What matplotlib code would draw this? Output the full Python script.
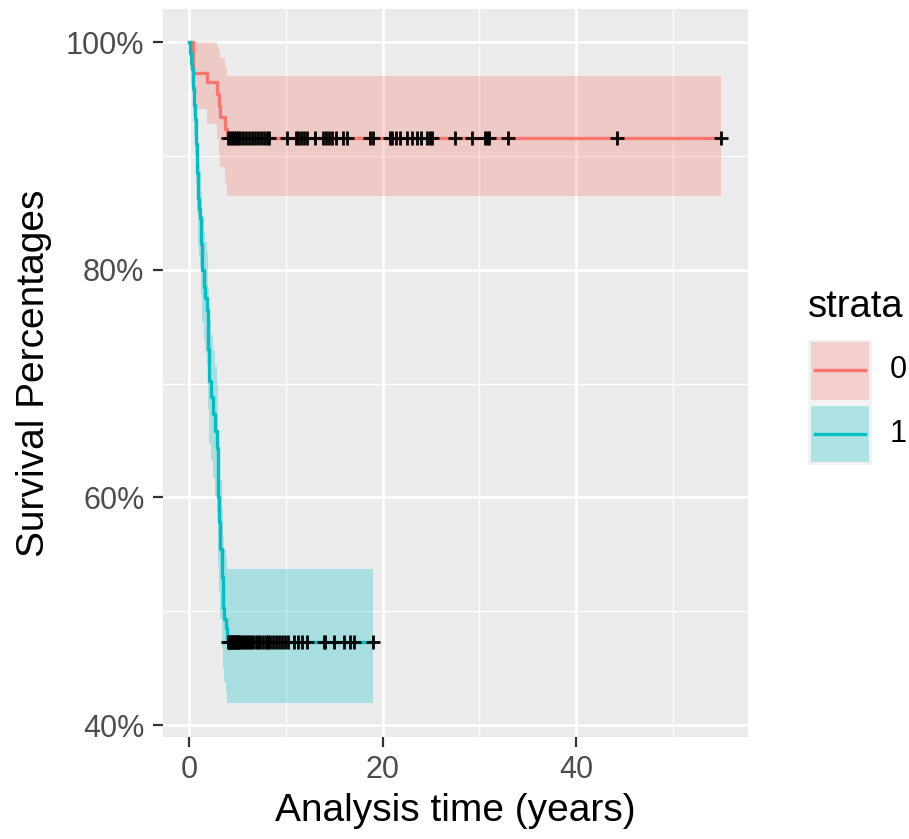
import numpy as np
import matplotlib
matplotlib.use("Agg")
import matplotlib.pyplot as plt
from matplotlib.patches import Rectangle
from matplotlib.lines import Line2D

plt.rcParams['font.family'] = ['Liberation Sans', 'DejaVu Sans']

# ---------------- data ----------------
strata = ["0", "1"]

# stratum 0: event times (years) and survival (%) with confidence band
t0 = [0, 0.4, 1.85, 2.9, 3.05, 3.2, 3.7, 3.9]
s0 = [100, 97.3, 96.5, 95.4, 94.4, 93.4, 92.4, 91.6]
up0 = [100, 100, 100, 99.6, 99.2, 98.6, 97.8, 97.0]
lo0 = [100, 94.1, 92.8, 91.5, 90.2, 89.0, 87.6, 86.5]
cens0 = [4.0, 4.2, 4.4, 4.6, 4.8, 5.0, 5.3, 5.6, 5.9, 6.2, 6.5, 6.8, 7.1, 7.4,
         7.7, 8.0, 8.3, 10.1, 11.0, 11.3, 11.6, 11.9, 12.2, 13.0, 13.8, 14.1,
         14.5, 14.8, 15.2, 15.9, 16.3, 18.7, 19.0, 20.8, 21.0, 21.4, 21.8, 22.5,
         23.0, 23.5, 24.0, 24.6, 24.9, 25.1, 27.5, 29.2, 30.6, 30.8, 31.0, 33.0,
         44.2, 55.0]

# stratum 1
t1 = [0, 0.1, 0.2, 0.27, 0.4, 0.5, 0.62, 0.75, 0.85, 0.96, 1.05, 1.14, 1.22,
      1.31, 1.5, 1.65, 1.83, 1.95, 2.1, 2.3, 2.5, 2.69, 2.93, 3.0, 3.03, 3.1,
      3.2, 3.35, 3.5, 3.65, 3.8, 3.9]
s1 = [100, 99.0, 98.2, 97.6, 96.0, 94.5, 93.2, 91.0, 88.5, 86.2, 85.3, 84.5,
      82.3, 80.0, 78.5, 77.5, 76.5, 73.0, 70.2, 68.8, 67.3, 65.8, 64.3, 62.0,
      60.0, 57.8, 55.5, 53.0, 50.3, 49.3, 48.5, 47.3]
up1 = [100, 99.9, 99.6, 99.2, 98.2, 97.0, 96.1, 94.3, 92.2, 90.2, 89.4, 88.7,
       86.8, 84.7, 83.3, 82.4, 81.5, 78.3, 75.6, 74.3, 72.9, 71.5, 70.1, 67.9,
       65.9, 63.8, 61.5, 59.1, 56.5, 55.5, 54.8, 53.7]
lo1 = [100, 97.6, 96.3, 95.5, 93.5, 91.7, 90.1, 87.6, 84.8, 82.2, 81.2, 80.3,
       77.9, 75.4, 73.8, 72.7, 71.6, 67.8, 64.8, 63.3, 61.7, 60.1, 58.5, 56.1,
       54.0, 51.7, 49.3, 46.8, 45.0, 43.8, 42.8, 41.9]
cens1 = [4.0, 4.1, 4.2, 4.3, 4.4, 4.5, 4.6, 4.7, 4.8, 4.9, 5.0, 5.2, 5.4, 5.6,
         5.8, 6.0, 6.2, 6.4, 6.6, 6.9, 7.1, 7.3, 7.6, 7.9, 8.1, 8.4, 8.7, 9.0,
         9.3, 9.6, 9.9, 10.2, 10.8, 11.3, 11.7, 12.2, 13.9, 14.05, 15.0, 16.0,
         16.6, 17.0, 19.0]

x_ticks = [0, 20, 40]
y_ticks = [40, 60, 80, 100]
y_tick_labels = ["40%", "60%", "80%", "100%"]

colors = ["#F8766D", "#00BFC4"]

# ---------------- figure ----------------
W, H = 909, 839
fig = plt.figure(figsize=(W / 100, H / 100), dpi=100)
fig.patch.set_facecolor("white")

def fx(x):
    return x / W

def fy(y):
    return 1 - y / H

ax = fig.add_axes([fx(162.5), fy(737), fx(748) - fx(162.5), fy(9) - fy(737)])
ax.set_facecolor("#EBEBEB")
for sp in ax.spines.values():
    sp.set_visible(False)

ax.set_xlim(-2.75, 57.75)
ax.set_ylim(38.95, 102.9)

ax.set_xticks(x_ticks)
ax.set_xticks([10, 30, 50], minor=True)
ax.set_yticks(y_ticks)
ax.set_yticklabels(y_tick_labels)
ax.set_yticks([50, 70, 90], minor=True)
ax.grid(which="major", color="white", lw=2.0)
ax.grid(which="minor", color="white", lw=1.0)
ax.set_axisbelow(True)
ax.tick_params(which="major", length=7, width=1.6, color="#333333",
               labelsize=22, labelcolor="#4D4D4D", pad=6)
ax.tick_params(which="minor", length=0)

groups = [
    (t0, s0, up0, lo0, cens0),
    (t1, s1, up1, lo1, cens1),
]
for (t, s, up, lo, cens), col in zip(groups, colors):
    tt = np.append(t, cens[-1])
    ss = np.append(s, s[-1])
    uu = np.append(up, up[-1])
    ll = np.append(lo, lo[-1])
    ax.fill_between(tt, ll, uu, step="post", color=col, alpha=0.28, lw=0)
    ax.step(tt, ss, where="post", color=col, lw=2.4)
for (t, s, up, lo, cens), col in zip(groups, colors):
    idx = np.searchsorted(t, cens, side="right") - 1
    cy = np.asarray(s)[idx]
    ax.plot(cens, cy, linestyle="none", marker="+", color="black",
            ms=10.5, mew=2.0, zorder=5)

ax.set_xlabel("Analysis time (years)", fontsize=28, color="black", labelpad=6)
ax.set_ylabel("Survival Percentages", fontsize=28, color="black", labelpad=10)

# ---------------- legend (ggplot style) ----------------
fig.text(fx(808), fy(317), "strata", fontsize=27.5, ha="left",
         va="baseline", color="black")
key_tops = [339.5, 402.5]
for k, (lab, col) in enumerate(zip(strata, colors)):
    ytop = key_tops[k]
    fig.add_artist(Rectangle((fx(808), fy(ytop + 63)), fx(64), 63 / H,
                             transform=fig.transFigure, facecolor="#F2F2F2",
                             edgecolor="none"))
    fig.add_artist(Rectangle((fx(811), fy(ytop + 60)), fx(58), 57 / H,
                             transform=fig.transFigure, facecolor=col,
                             alpha=0.28, edgecolor="none"))
    yc = ytop + 31
    fig.add_artist(Line2D([fx(815), fx(865)], [fy(yc), fy(yc)],
                          transform=fig.transFigure, color=col, lw=2.4))
    fig.text(fx(890), fy(yc), lab, fontsize=22, ha="left", va="center",
             color="black")

fig.savefig("out.png", dpi=100)
